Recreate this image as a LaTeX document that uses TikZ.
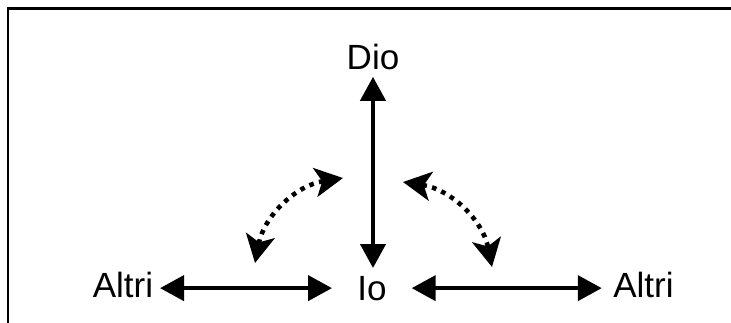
\documentclass[tikz,border=0pt]{standalone}
\usepackage{fontspec}
\setmainfont{Liberation Sans}
\usetikzlibrary{arrows.meta}

\tikzset{
  label/.style={inner sep=0pt, outer sep=0pt, anchor=base,
    font=\fontsize{35}{42}\selectfont},
  link/.style={line width=4.2pt,
    {Triangle[length=24pt,width=25pt]}-{Triangle[length=24pt,width=25pt]}},
  swing/.style={line width=4.6pt, dash pattern=on 4.6pt off 5.4pt,
    {Stealth[length=28pt,width=29pt,inset=7pt]}-{Stealth[length=28pt,width=29pt,inset=7pt]}},
  frame/.style={line width=2.4pt}
}

\begin{document}
\begin{tikzpicture}[x=1pt,y=1pt]
  \clip (0,0) rectangle (731,322);

  % open frame: top and left edges only
  \draw[frame] (7.8,-10) |- (745,313.5);

  % labels
  \node[label] (Dio)    at (373,252)   {Dio};
  \node[label] (Io)     at (372,22)    {Io};
  \node[label] (AltriL) at (122.9,24.7) {Altri};
  \node[label] (AltriR) at (643.5,24.7) {Altri};

  % straight double arrows
  \draw[link, shorten <=6.5pt, shorten >=7.9pt] (Dio.south) -- (Dio.south |- Io.north);
  \draw[link, shorten <=7pt, shorten >=25.4pt] (Io.west -| AltriL.east) -- (Io.west);
  \draw[link, shorten <=25.1pt, shorten >=11.6pt] (Io.east) -- (Io.east -| AltriR.west);

  % dotted curved arrows
  \coordinate (la) at (255,59);
  \coordinate (lb) at (343,144);
  \coordinate (ra) at (403,140);
  \coordinate (rb) at (492,55);
  \draw[swing] (la) to[bend left=35] (lb);
  \draw[swing] (ra) to[bend left=35] (rb);
\end{tikzpicture}
\end{document}
